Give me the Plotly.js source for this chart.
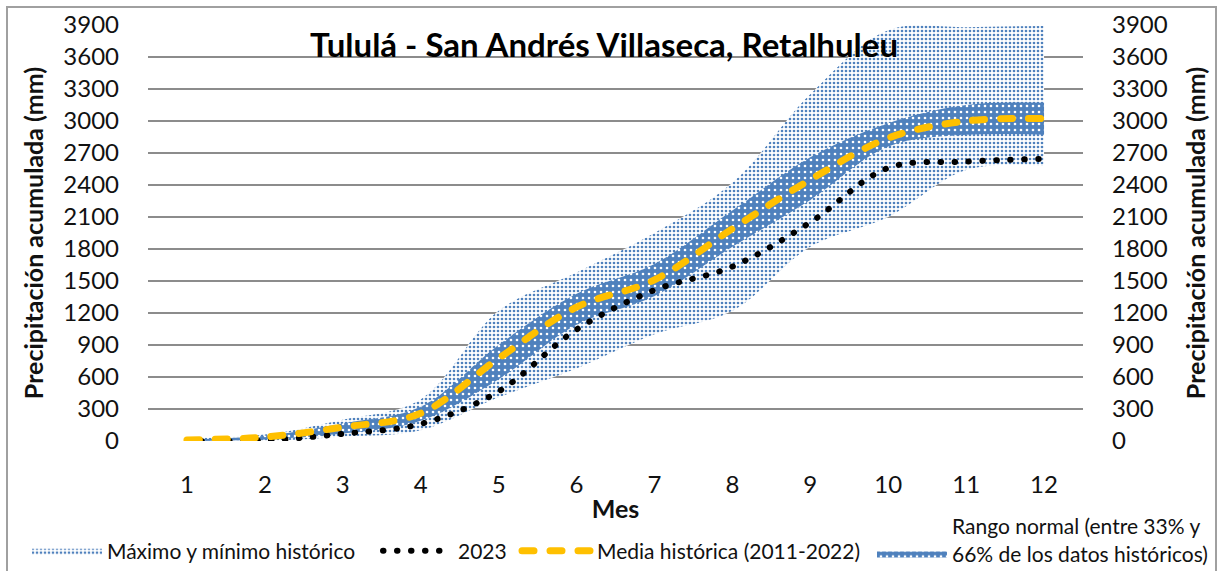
<!DOCTYPE html>
<html>
<head>
<meta charset="utf-8">
<script src="https://cdn.plot.ly/plotly-3.0.1.min.js"></script>
<style>
html, body { margin: 0; padding: 0; background: #fff; }
#chart { width: 1219px; height: 571px; }
.js-line, .legendlines path { stroke-linecap: round; }
</style>
</head>
<body>
<div id="chart"></div>
<script>
// Months
const months = [1, 2, 3, 4, 5, 6, 7, 8, 9, 10, 11, 12];
const monthLabels = ["1", "2", "3", "4", "5", "6", "7", "8", "9", "10", "11", "12"];
// Historical minimum and maximum (mm, accumulated)
const minHist = [0, 0, 40, 100, 410, 680, 1000, 1220, 1820, 2100, 2540, 2580];
const maxHist = [30, 60, 200, 390, 1220, 1580, 1950, 2420, 3250, 3850, 3880, 3890];
// Normal range (33% - 66%)
const p33 = [0, 15, 70, 190, 580, 1090, 1360, 1820, 2260, 2760, 2870, 2870];
const p66 = [15, 50, 165, 320, 900, 1380, 1660, 2160, 2660, 2980, 3150, 3170];
// Historical mean 2011-2022
const meanHist = [10, 37, 130, 260, 775, 1255, 1510, 1990, 2450, 2840, 3000, 3022];
// 2023
const y2023 = [0, 5, 68, 160, 465, 1045, 1415, 1635, 2050, 2560, 2620, 2645];
// Y ticks
const yTicks = [0, 300, 600, 900, 1200, 1500, 1800, 2100, 2400, 2700, 3000, 3300, 3600, 3900];

const BLUE = '#4F81BD';
const FONT = 'Lato, "Open Sans", sans-serif';
const TXT = '#111111';

const traces = [
  { x: months, y: minHist, type: 'scatter', mode: 'lines', line: { width: 0, shape: 'spline' },
    showlegend: false, hoverinfo: 'skip' },
  { x: months, y: maxHist, type: 'scatter', mode: 'lines', line: { width: 0, shape: 'spline' },
    fill: 'tonexty', fillcolor: 'rgba(0,0,0,0)',
    fillpattern: { shape: '.', bgcolor: '#ffffff', fgcolor: BLUE, size: 4, solidity: 0.35 },
    name: 'Máximo y mínimo histórico', legend: 'legend' },
  { x: months, y: p33, type: 'scatter', mode: 'lines', line: { width: 0, shape: 'spline' },
    showlegend: false, hoverinfo: 'skip' },
  { x: months, y: p66, type: 'scatter', mode: 'lines', line: { width: 0, shape: 'spline' },
    fill: 'tonexty', fillcolor: BLUE,
    fillpattern: { shape: '.', bgcolor: BLUE, fgcolor: '#ffffff', size: 6, solidity: 0.15 },
    name: 'Rango normal (entre 33% y<br>66% de los datos históricos)', legend: 'legend4' },
  { x: months, y: y2023, type: 'scatter', mode: 'lines',
    line: { width: 6, color: '#000000', dash: '0.5px,13.5px', shape: 'spline' },
    name: '2023', legend: 'legend2' },
  { x: months, y: meanHist, type: 'scatter', mode: 'lines',
    line: { width: 7, color: '#FFC000', dash: '12px,16px', shape: 'spline' },
    name: 'Media histórica (2011-2022)', legend: 'legend3' },
  { x: months, y: meanHist, type: 'scatter', mode: 'lines', yaxis: 'y2',
    line: { width: 0 }, showlegend: false, hoverinfo: 'skip', opacity: 0 }
];

const legendBase = {
  orientation: 'h', xanchor: 'left', yanchor: 'middle', bgcolor: 'rgba(0,0,0,0)',
  font: { family: FONT, size: 21, color: TXT }, itemwidth: 70, traceorder: 'normal'
};

const px2x = p => (p - 148) / 935;
const px2y = p => (441 - p) / 416;

const yaxisBase = {
  range: [0, 3900], tickmode: 'array', tickvals: yTicks, ticktext: yTicks.map(String),
  showline: false, zeroline: false, ticks: '', ticklabelstandoff: 28,
  tickfont: { family: FONT, size: 24, color: TXT }, fixedrange: true
};

const layout = {
  width: 1219, height: 571,
  margin: { l: 148, r: 136, t: 25, b: 130, autoexpand: false },
  paper_bgcolor: '#ffffff', plot_bgcolor: '#ffffff',
  showlegend: true,
  xaxis: {
    range: [0.5, 12.5], tickmode: 'array', tickvals: months, ticktext: monthLabels,
    showgrid: false, zeroline: false, showline: false, ticks: '', ticklabelstandoff: 27,
    tickfont: { family: FONT, size: 24, color: TXT }, automargin: false,
    title: { text: 'Mes', font: { family: FONT, size: 25, color: TXT, weight: 'bold' }, standoff: 3 }
  },
  yaxis: Object.assign({}, yaxisBase, {
    showgrid: true, gridcolor: '#8c8c8c', gridwidth: 2, automargin: false,
    title: { text: 'Precipitación acumulada (mm)', font: { family: FONT, size: 25, color: TXT, weight: 'bold' }, standoff: 12 }
  }),
  yaxis2: Object.assign({}, yaxisBase, {
    overlaying: 'y', side: 'right', showgrid: false, automargin: false,
    title: { text: 'Precipitación acumulada (mm)', font: { family: FONT, size: 25, color: TXT, weight: 'bold' }, standoff: 20 }
  }),
  legend: Object.assign({}, legendBase, { x: px2x(27), y: px2y(551) }),
  legend2: Object.assign({}, legendBase, { x: px2x(378), y: px2y(551) }),
  legend3: Object.assign({}, legendBase, { x: px2x(517), y: px2y(551) }),
  legend4: Object.assign({}, legendBase, { x: px2x(872), y: px2y(540), valign: 'bottom' }),
  annotations: [{
    xref: 'paper', yref: 'paper', x: px2x(604), y: px2y(44), xanchor: 'center', yanchor: 'middle',
    text: 'Tululá - San Andrés Villaseca, Retalhuleu', showarrow: false,
    font: { family: FONT, size: 33, color: '#000000', weight: 'bold' }
  }],
  shapes: [{
    type: 'rect', xref: 'paper', yref: 'paper', layer: 'above',
    x0: px2x(7), x1: px2x(1216), y0: px2y(590), y1: px2y(7),
    line: { color: '#a0a0a0', width: 2 }, fillcolor: 'rgba(0,0,0,0)'
  }]
};

Plotly.newPlot('chart', traces, layout, { staticPlot: true, displayModeBar: false });
</script>
</body>
</html>
